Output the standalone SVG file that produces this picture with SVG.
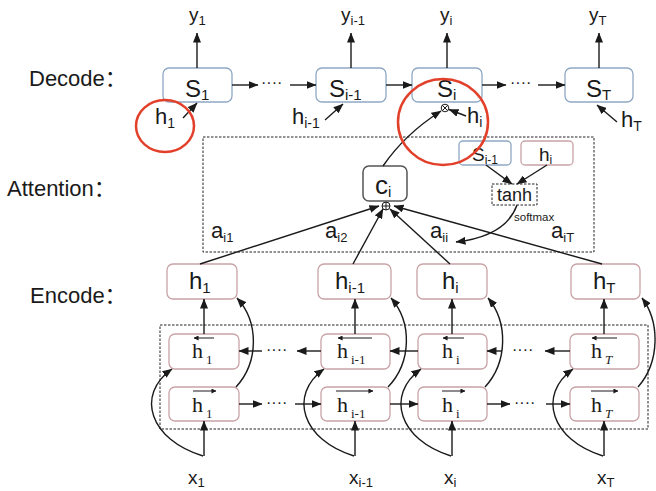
<svg xmlns="http://www.w3.org/2000/svg" width="656" height="491" viewBox="0 0 656 491">
  <style>
    .lbl { font-family: "Liberation Sans", "Noto Sans CJK SC", sans-serif; fill: #1a1a1a; }
    .ser { font-family: "Liberation Serif", "DejaVu Serif", serif; fill: #1a1a1a; }
    .dec { fill: #fff; stroke: #8ea8c3; stroke-width: 1.3; }
    .enc { fill: #fff; stroke: #c9a3a6; stroke-width: 1.3; }
    .ctx { fill: #fff; stroke: #555; stroke-width: 1.5; }
    .dash { fill: none; stroke: #222; stroke-width: 1; stroke-dasharray: 2.5 1.5; }
    .ln { fill: none; stroke: #1a1a1a; stroke-width: 1.4; }
    .acc { fill: none; stroke: #1a1a1a; stroke-width: 1; }
    .ring { fill: none; stroke: #e2402a; stroke-width: 2.5; }
    .dots { font-family: "Liberation Sans", sans-serif; font-size: 16px; fill: #1a1a1a; }
  </style>
  <defs>
    <marker id="ah" viewBox="0 0 10 8" refX="9.5" refY="4" markerWidth="10" markerHeight="8" markerUnits="userSpaceOnUse" orient="auto">
      <path d="M0,0 L10,4 L0,8 Z" fill="#1a1a1a"/>
    </marker>
    <marker id="sa" viewBox="0 0 6 6" refX="5.5" refY="3" markerWidth="5" markerHeight="5" markerUnits="userSpaceOnUse" orient="auto">
      <path d="M0,0 L6,3 L0,6 Z" fill="#1a1a1a"/>
    </marker>
  </defs>

  <!-- row titles -->
  <text class="lbl" x="29" y="86" font-size="22">Decode：</text>
  <text class="lbl" x="7" y="196" font-size="22">Attention：</text>
  <text class="lbl" x="30" y="303" font-size="22">Encode：</text>

  <!-- outputs -->
  <g id="outputs" class="lbl" font-size="19">
    <text x="189" y="21">y<tspan font-size="13" dy="4">1</tspan></text>
    <text x="341" y="21">y<tspan font-size="13" dy="4">i-1</tspan></text>
    <text x="440" y="21">y<tspan font-size="13" dy="4">i</tspan></text>
    <text x="589" y="21">y<tspan font-size="13" dy="4">T</tspan></text>
  </g>

  <!-- decoder states -->
  <g id="dec-s1">
    <rect class="dec" x="163" y="68" width="69" height="34" rx="6"/>
    <text class="lbl" x="185" y="97" font-size="24">S<tspan font-size="15" dy="3">1</tspan></text>
  </g>
  <g id="dec-si-1">
    <rect class="dec" x="316" y="68" width="70" height="34" rx="6"/>
    <text class="lbl" x="329" y="97" font-size="24">S<tspan font-size="15" dy="3">i-1</tspan></text>
  </g>
  <g id="dec-si">
    <rect class="dec" x="412" y="68" width="70" height="34" rx="6"/>
    <text class="lbl" x="437" y="97" font-size="24">S<tspan font-size="15" dy="3">i</tspan></text>
  </g>
  <g id="dec-sT">
    <rect class="dec" x="565" y="68" width="68" height="34" rx="6"/>
    <text class="lbl" x="586" y="97" font-size="24">S<tspan font-size="15" dy="3">T</tspan></text>
  </g>

  <!-- decoder side inputs -->
  <g id="dec-inputs" class="lbl" font-size="22">
    <text x="155" y="124">h<tspan font-size="14" dy="4">1</tspan></text>
    <text x="292" y="124">h<tspan font-size="14" dy="4">i-1</tspan></text>
    <text x="467" y="123">h<tspan font-size="14" dy="4">i</tspan></text>
    <text x="621" y="127">h<tspan font-size="14" dy="4">T</tspan></text>
  </g>

  <!-- combine node under S_i -->
  <g id="mix">
    <circle cx="445" cy="108" r="3.8" fill="#fff" stroke="#1a1a1a" stroke-width="1"/>
    <path class="acc" d="M442.3,105.3 L447.7,110.7 M447.7,105.3 L442.3,110.7"/>
  </g>

  <!-- attention block -->
  <rect class="dash" x="203" y="137" width="391" height="115"/>
  <g id="ctx">
    <rect class="ctx" x="363" y="166" width="44" height="35" rx="6"/>
    <text class="lbl" x="375" y="194" font-size="26">c<tspan font-size="15" dy="3">i</tspan></text>
  </g>
  <g id="sum">
    <circle cx="386" cy="206" r="4" fill="#fff" stroke="#1a1a1a" stroke-width="1"/>
    <path class="acc" d="M382,206 H390 M386,202 V210"/>
  </g>
  <g id="att-s">
    <rect class="dec" x="459" y="141" width="52" height="24" rx="4"/>
    <text class="lbl" x="472" y="161" font-size="19">S<tspan font-size="12" dy="3">i-1</tspan></text>
  </g>
  <g id="att-h">
    <rect class="enc" x="521" y="141" width="52" height="24" rx="4"/>
    <text class="lbl" x="539" y="161" font-size="19">h<tspan font-size="12" dy="3">i</tspan></text>
  </g>
  <g id="tanh">
    <rect class="dash" x="492" y="184" width="45" height="21"/>
    <text class="lbl" x="514.5" y="201" font-size="18" text-anchor="middle">tanh</text>
  </g>
  <text class="lbl" x="514" y="221" font-size="11.5">softmax</text>
  <g id="weights" class="lbl" font-size="22">
    <text x="211" y="238">a<tspan font-size="13" dy="4">i1</tspan></text>
    <text x="325" y="238">a<tspan font-size="13" dy="4">i2</tspan></text>
    <text x="430" y="238">a<tspan font-size="13" dy="4">ii</tspan></text>
    <text x="551" y="238">a<tspan font-size="13" dy="4">iT</tspan></text>
  </g>

  <!-- encoder outputs -->
  <g id="enc-h1">
    <rect class="enc" x="167" y="264" width="70" height="35" rx="6"/>
    <text class="lbl" x="189" y="289" font-size="24">h<tspan font-size="15" dy="4">1</tspan></text>
  </g>
  <g id="enc-hi-1">
    <rect class="enc" x="318" y="264" width="73" height="35" rx="6"/>
    <text class="lbl" x="335" y="289" font-size="24">h<tspan font-size="15" dy="4">i-1</tspan></text>
  </g>
  <g id="enc-hi">
    <rect class="enc" x="417" y="264" width="70" height="35" rx="6"/>
    <text class="lbl" x="442" y="289" font-size="24">h<tspan font-size="15" dy="4">i</tspan></text>
  </g>
  <g id="enc-hT">
    <rect class="enc" x="571" y="264" width="69" height="35" rx="6"/>
    <text class="lbl" x="593" y="289" font-size="24">h<tspan font-size="15" dy="4">T</tspan></text>
  </g>

  <!-- bidirectional layer -->
  <rect class="dash" x="160" y="325" width="488" height="104"/>
  <g id="bw-1">
    <rect class="enc" x="169" y="334" width="70" height="35" rx="6"/>
    <text class="ser" x="192" y="358" font-size="22">h<tspan font-size="13" dx="3" dy="6">1</tspan></text>
    <path class="acc" d="M214,338 H194" marker-end="url(#sa)"/>
  </g>
  <g id="bw-i-1">
    <rect class="enc" x="321" y="334" width="69" height="35" rx="6"/>
    <text class="ser" x="337" y="358" font-size="22">h<tspan font-size="13" dx="3" dy="6">i-1</tspan></text>
    <path class="acc" d="M372,338 H338" marker-end="url(#sa)"/>
  </g>
  <g id="bw-i">
    <rect class="enc" x="418" y="334" width="69" height="35" rx="6"/>
    <text class="ser" x="442" y="358" font-size="22">h<tspan font-size="13" dx="3" dy="6">i</tspan></text>
    <path class="acc" d="M464,338 H443" marker-end="url(#sa)"/>
  </g>
  <g id="bw-T">
    <rect class="enc" x="570" y="334" width="69" height="35" rx="6"/>
    <text class="ser" x="591" y="358" font-size="22">h<tspan font-size="13" font-style="italic" dx="3" dy="6">T</tspan></text>
    <path class="acc" d="M617,338 H592" marker-end="url(#sa)"/>
  </g>
  <g id="fw-1">
    <rect class="enc" x="169" y="387" width="70" height="34" rx="6"/>
    <text class="ser" x="192" y="412" font-size="22">h<tspan font-size="13" dx="3" dy="6">1</tspan></text>
    <path class="acc" d="M193,391 H216" marker-end="url(#sa)"/>
  </g>
  <g id="fw-i-1">
    <rect class="enc" x="321" y="387" width="69" height="34" rx="6"/>
    <text class="ser" x="337" y="412" font-size="22">h<tspan font-size="13" dx="3" dy="6">i-1</tspan></text>
    <path class="acc" d="M336,391 H373" marker-end="url(#sa)"/>
  </g>
  <g id="fw-i">
    <rect class="enc" x="418" y="387" width="69" height="34" rx="6"/>
    <text class="ser" x="442" y="412" font-size="22">h<tspan font-size="13" dx="3" dy="6">i</tspan></text>
    <path class="acc" d="M442,391 H465" marker-end="url(#sa)"/>
  </g>
  <g id="fw-T">
    <rect class="enc" x="570" y="387" width="69" height="34" rx="6"/>
    <text class="ser" x="591" y="412" font-size="22">h<tspan font-size="13" font-style="italic" dx="3" dy="6">T</tspan></text>
    <path class="acc" d="M591,391 H618" marker-end="url(#sa)"/>
  </g>

  <!-- inputs -->
  <g id="inputs" class="lbl" font-size="19">
    <text x="188" y="484">x<tspan font-size="13" dy="3">1</tspan></text>
    <text x="349" y="484">x<tspan font-size="13" dy="3">i-1</tspan></text>
    <text x="444" y="484">x<tspan font-size="13" dy="3">i</tspan></text>
    <text x="597" y="484">x<tspan font-size="13" dy="3">T</tspan></text>
  </g>

  <!-- ellipsis marks -->
  <g id="ellipses" class="dots">
    <text x="261" y="88">····</text>
    <text x="510" y="88">····</text>
    <text x="266" y="355">····</text>
    <text x="512" y="355">····</text>
    <text x="266" y="408">····</text>
    <text x="514" y="408">····</text>
  </g>

  <!-- connectors -->
  <g id="connectors" class="ln">
    <!-- decoder outputs -->
    <path d="M197,68 V33" marker-end="url(#ah)"/>
    <path d="M351,68 V33" marker-end="url(#ah)"/>
    <path d="M447,68 V33" marker-end="url(#ah)"/>
    <path d="M599,68 V33" marker-end="url(#ah)"/>
    <!-- decoder recurrence -->
    <path d="M232,85 H258" marker-end="url(#ah)"/>
    <path d="M290,85 H316" marker-end="url(#ah)"/>
    <path d="M386,85 H412" marker-end="url(#ah)"/>
    <path d="M482,85 H506" marker-end="url(#ah)"/>
    <path d="M538,85 H565" marker-end="url(#ah)"/>
    <!-- decoder side inputs -->
    <path d="M183,118 L197,103" marker-end="url(#ah)"/>
    <path d="M325,120 L343,104" marker-end="url(#ah)"/>
    <path d="M466,116 L449,109.5" marker-end="url(#ah)"/>
    <path d="M617,122 L597,105" marker-end="url(#ah)"/>
    <!-- context to decoder -->
    <path d="M383,166 Q405,134 441,111" marker-end="url(#ah)"/>
    <!-- score path -->
    <path d="M486,165 L512,184" marker-end="url(#ah)"/>
    <path d="M547,165 L517,184" marker-end="url(#ah)"/>
    <path d="M517,205 Q506,236 456,242" marker-end="url(#ah)"/>
    <!-- weighted sum -->
    <path d="M200,264 L379,206" marker-end="url(#ah)"/>
    <path d="M353,264 L383,209" marker-end="url(#ah)"/>
    <path d="M450,264 L390,209" marker-end="url(#ah)"/>
    <path d="M602,264 L394,206" marker-end="url(#ah)"/>
    <!-- backward layer to outputs -->
    <path d="M204,334 V299" marker-end="url(#ah)"/>
    <path d="M355,334 V299" marker-end="url(#ah)"/>
    <path d="M452,334 V299" marker-end="url(#ah)"/>
    <path d="M604,334 V299" marker-end="url(#ah)"/>
    <!-- forward layer to outputs -->
    <path d="M236,387 C259,362 259,322 237,298" marker-end="url(#ah)"/>
    <path d="M388,387 C412,362 412,322 391,298" marker-end="url(#ah)"/>
    <path d="M485,387 C508,362 508,322 488,298" marker-end="url(#ah)"/>
    <path d="M638,387 C660,362 660,322 642,298" marker-end="url(#ah)"/>
    <!-- backward recurrence -->
    <path d="M262,351 H239" marker-end="url(#ah)"/>
    <path d="M321,351 H297" marker-end="url(#ah)"/>
    <path d="M418,351 H390" marker-end="url(#ah)"/>
    <path d="M502,351 H487" marker-end="url(#ah)"/>
    <path d="M570,351 H545" marker-end="url(#ah)"/>
    <!-- forward recurrence -->
    <path d="M239,404 H262" marker-end="url(#ah)"/>
    <path d="M295,404 H321" marker-end="url(#ah)"/>
    <path d="M390,404 H418" marker-end="url(#ah)"/>
    <path d="M487,404 H510" marker-end="url(#ah)"/>
    <path d="M546,404 H570" marker-end="url(#ah)"/>
    <!-- inputs to forward layer -->
    <path d="M204,456 V421" marker-end="url(#ah)"/>
    <path d="M355,456 V421" marker-end="url(#ah)"/>
    <path d="M452,456 V421" marker-end="url(#ah)"/>
    <path d="M604,456 V421" marker-end="url(#ah)"/>
    <!-- inputs to backward layer -->
    <path d="M203,456 C150,440 135,395 172,369" marker-end="url(#ah)"/>
    <path d="M354,456 C302,440 288,395 324,369" marker-end="url(#ah)"/>
    <path d="M451,456 C399,440 385,395 421,369" marker-end="url(#ah)"/>
    <path d="M603,456 C551,440 537,395 573,369" marker-end="url(#ah)"/>
  </g>

  <!-- highlight rings -->
  <ellipse class="ring" cx="165" cy="126" rx="29" ry="26"/>
  <ellipse class="ring" cx="443" cy="122" rx="45" ry="43"/>
</svg>
